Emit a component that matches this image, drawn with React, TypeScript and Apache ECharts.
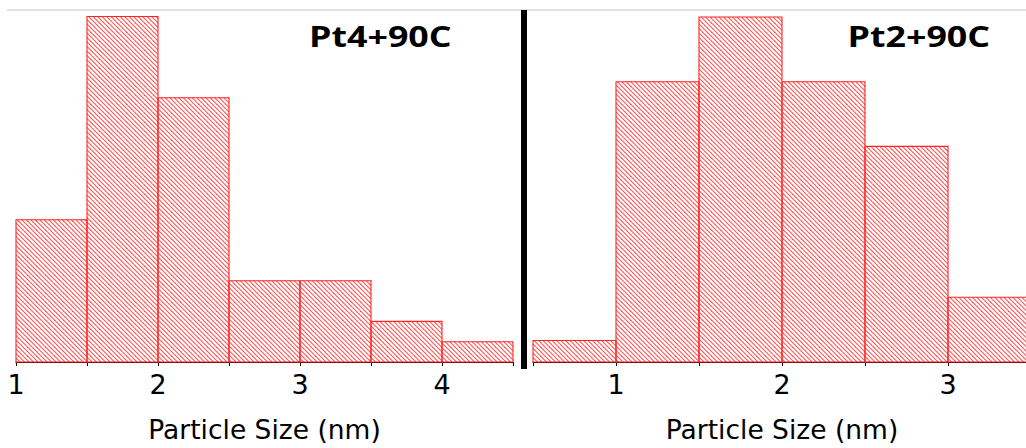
import React, { useEffect, useRef } from 'react';
import * as echarts from 'echarts';

const binWidth = 0.5;
const leftBinStarts = [1, 1.5, 2, 2.5, 3, 3.5, 4];
const leftCounts = [7, 17, 13, 4, 4, 2, 1];
const rightBinStarts = [0.5, 1, 1.5, 2, 2.5, 3];
const rightCounts = [1, 13, 16, 13, 10, 3];
const leftTickLabels = [1, 2, 3, 4];
const rightTickLabels = [1, 2, 3];
const titles = ['Pt4+90C', 'Pt2+90C'];
const axisTitle = 'Particle Size (nm)';

function makeHatch(): string {
  const s = 9;
  const c = document.createElement('canvas');
  c.width = s;
  c.height = s;
  const ctx = c.getContext('2d')!;
  ctx.strokeStyle = 'rgba(255,55,55,0.85)';
  ctx.lineWidth = 1.1;
  for (let k = -2 * s; k <= 2 * s; k += s / 2) {
    ctx.beginPath();
    ctx.moveTo(-s, -s + k);
    ctx.lineTo(2 * s, 2 * s + k);
    ctx.stroke();
  }
  return c.toDataURL();
}

function inkWidth(text: string, font: string): number {
  const ctx = document.createElement('canvas').getContext('2d')!;
  ctx.font = font;
  const m = ctx.measureText(text);
  const w = (m.actualBoundingBoxLeft || 0) + (m.actualBoundingBoxRight || 0);
  return w > 0 ? w : m.width;
}

export default function App() {
  const ref = useRef<HTMLDivElement>(null);
  useEffect(() => {
    if (!ref.current) return;
    const chart = echarts.init(ref.current, undefined, { renderer: 'svg' });
    const hatch = { image: makeHatch(), repeat: 'repeat', imageWidth: 9, imageHeight: 9 };
    const titleFont = 'bold 28px "Open Sans"';
    const titleScale = 139 / inkWidth(titles[0], titleFont);

    const renderItem = (params: any, api: any) => {
      const x0 = api.value(0);
      const x1 = api.value(1);
      const v = api.value(2);
      const p0 = api.coord([x0, v]);
      const p1 = api.coord([x1, 0]);
      return {
        type: 'rect',
        shape: { x: p0[0], y: p0[1], width: p1[0] - p0[0], height: p1[1] - p0[1] },
        style: { fill: hatch, stroke: '#ff2424', lineWidth: 1.1 },
      };
    };

    const axisCommon = (labels: number[]) => ({
      type: 'value',
      interval: 0.5,
      axisLine: { show: true, onZero: false, lineStyle: { color: '#000', width: 1 } },
      axisTick: { show: true, length: 4, inside: false, lineStyle: { color: '#000' } },
      splitLine: { show: false },
      axisLabel: {
        margin: 9,
        color: '#000',
        fontFamily: 'DejaVu Sans',
        fontSize: 27,
        showMinLabel: true,
        showMaxLabel: true,
        formatter: (v: number) => (labels.includes(v) ? String(v) : ''),
      },
      name: axisTitle,
      nameLocation: 'middle',
      nameGap: 54,
      nameTextStyle: { color: '#000', fontFamily: 'DejaVu Sans', fontSize: 26.5 },
    });

    chart.setOption({
      animation: false,
      backgroundColor: '#fff',
      grid: [
        { left: 16, top: 16.5, width: 497, height: 345.5 },
        { left: 533, top: 17, width: 498, height: 345 },
      ],
      xAxis: [
        { ...axisCommon(leftTickLabels), gridIndex: 0, min: 1, max: 4.5 },
        { ...axisCommon(rightTickLabels), gridIndex: 1, min: 0.5, max: 3.5 },
      ],
      yAxis: [
        { type: 'value', gridIndex: 0, min: 0, max: 17, show: false },
        { type: 'value', gridIndex: 1, min: 0, max: 16, show: false },
      ],
      series: [
        {
          type: 'custom',
          xAxisIndex: 0,
          yAxisIndex: 0,
          renderItem,
          data: leftBinStarts.map((s, i) => [s, s + binWidth, leftCounts[i]]),
          encode: { x: [0, 1], y: 2 },
        },
        {
          type: 'custom',
          xAxisIndex: 1,
          yAxisIndex: 1,
          renderItem,
          data: rightBinStarts.map((s, i) => [s, s + binWidth, rightCounts[i]]),
          encode: { x: [0, 1], y: 2 },
        },
      ],
      graphic: [
        { type: 'line', shape: { x1: 7, y1: 10, x2: 1026, y2: 10 }, style: { stroke: '#e2e2e2', lineWidth: 2 } },
        { type: 'rect', shape: { x: 521, y: 10, width: 6, height: 359 }, style: { fill: '#000' } },
        {
          type: 'text',
          x: 309,
          y: 36,
          scaleX: titleScale,
          style: { text: titles[0], font: titleFont, fill: '#000', align: 'left', verticalAlign: 'middle' },
        },
        {
          type: 'text',
          x: 847.5,
          y: 36,
          scaleX: titleScale,
          style: { text: titles[1], font: titleFont, fill: '#000', align: 'left', verticalAlign: 'middle' },
        },
      ],
    });
    return () => chart.dispose();
  }, []);
  return (
    <div
      ref={ref}
      style={{ position: 'fixed', left: 0, top: 0, width: 1040, height: 448 }}
    />
  );
}
